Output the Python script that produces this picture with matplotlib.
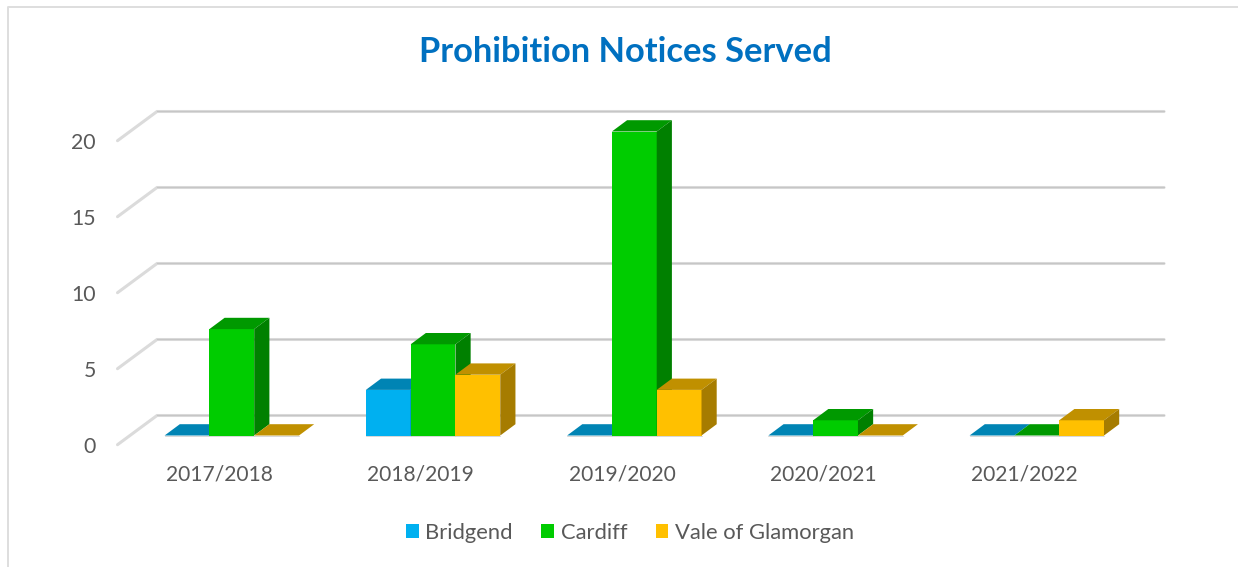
import numpy as np
import matplotlib
matplotlib.use('Agg')
import matplotlib.pyplot as plt
from matplotlib.patches import Polygon, Patch
from matplotlib.lines import Line2D

plt.rcParams['font.family'] = ['Lato', 'DejaVu Sans']

# Chart data
years = ['2017/2018', '2018/2019', '2019/2020', '2020/2021', '2021/2022']
bridgend = [0, 3, 0, 0, 0]
cardiff = [7, 6, 20, 1, 0]
vale = [0, 4, 3, 0, 1]
ticks = [0, 5, 10, 15, 20]
series_names = ['Bridgend', 'Cardiff', 'Vale of Glamorgan']

# front, top, side colours of each series
colours = [('#00B0F0', '#0084B4', '#006F96'),
           ('#00CC00', '#009900', '#008000'),
           ('#FFC000', '#C09000', '#A67C00')]

W, H = 1238, 567
fig = plt.figure(figsize=(W / 100, H / 100), dpi=100)
ax = fig.add_axes([0, 0, 1, 1])

# scales: one x unit is one year group, one y unit is one notice
px_x = 201.25
px_y = 15.2
x0 = 231.8
y0 = 435.5
ax.set_xlim(-x0 / px_x, (W - x0) / px_x)
ax.set_ylim((y0 - H) / px_y, y0 / px_y)
ax.axis('off')

bar_w = 44.8 / px_x
depth_x = 15.2 / px_x
depth_y = 11.3 / px_y

# chart frame
ax.add_line(Line2D([7.5 / W, 7.5 / W, 1], [0, 1 - 6.5 / H, 1 - 6.5 / H],
                   transform=ax.transAxes, color='#DEDEDE', lw=1.4))

# back wall grid lines and the slanted bit on the left
wall_l = (157 - x0) / px_x
wall_r = (1164 - x0) / px_x
front_l = (117.5 - x0) / px_x
back_off = 20.0 / px_y
front_off = -9.2 / px_y
for t in ticks:
    ax.plot([front_l, wall_l, wall_r],
            [t + front_off, t + back_off, t + back_off],
            color='#DBDBDB', lw=2.2, solid_capstyle='round', zorder=1)
    ax.plot([wall_l, wall_r], [t + back_off + 0.8 / px_y] * 2,
            color='#C6C6C6', lw=0.8, zorder=1)
    ax.text((96 - x0) / px_x, t + front_off - 2.5 / px_y, str(t),
            ha='right', va='center', fontsize=15.3, color='#595959')

# bars, left to right so later ones cover earlier sides
z = 2
for i in range(len(years)):
    for j, vals in enumerate([bridgend, cardiff, vale]):
        v = vals[i]
        c = colours[j]
        l = i + (j - 1.5) * bar_w
        r = l + bar_w
        ax.add_patch(Polygon([(l, 0), (r, 0), (r, v), (l, v)], closed=True,
                             facecolor=c[0], edgecolor='none', zorder=z))
        ax.add_patch(Polygon([(l, v), (r, v), (r + depth_x, v + depth_y), (l + depth_x, v + depth_y)],
                             closed=True, facecolor=c[1], edgecolor='none', zorder=z))
        ax.add_patch(Polygon([(r, 0), (r + depth_x, depth_y), (r + depth_x, v + depth_y), (r, v)],
                             closed=True, facecolor=c[2], edgecolor='none', zorder=z))
        ax.plot([l, r], [0, 0], color='#C8C8C8', lw=0.5, zorder=z)
        z += 1

# category labels
for i, y in enumerate(years):
    ax.text(i - 12.3 / px_x, -39.4 / px_y, y, ha='center', va='center',
            fontsize=15.1, color='#595959')

# title
ax.text(625.5 / W, 1 - 51.5 / H, 'Prohibition Notices Served', transform=ax.transAxes,
        ha='center', va='center', fontsize=24.8, fontweight='bold', color='#0070C0')

# legend
handles = [Patch(facecolor=c[0], edgecolor='none') for c in colours]
ax.legend(handles, series_names, ncol=3, frameon=False, loc='center',
          bbox_to_anchor=(630 / W, 1 - 533 / H), fontsize=15.8, labelcolor='#595959',
          handlelength=0.58, handleheight=0.58, handletextpad=0.3, columnspacing=1.3,
          borderpad=0, borderaxespad=0)

fig.savefig('out.png', dpi=100)
